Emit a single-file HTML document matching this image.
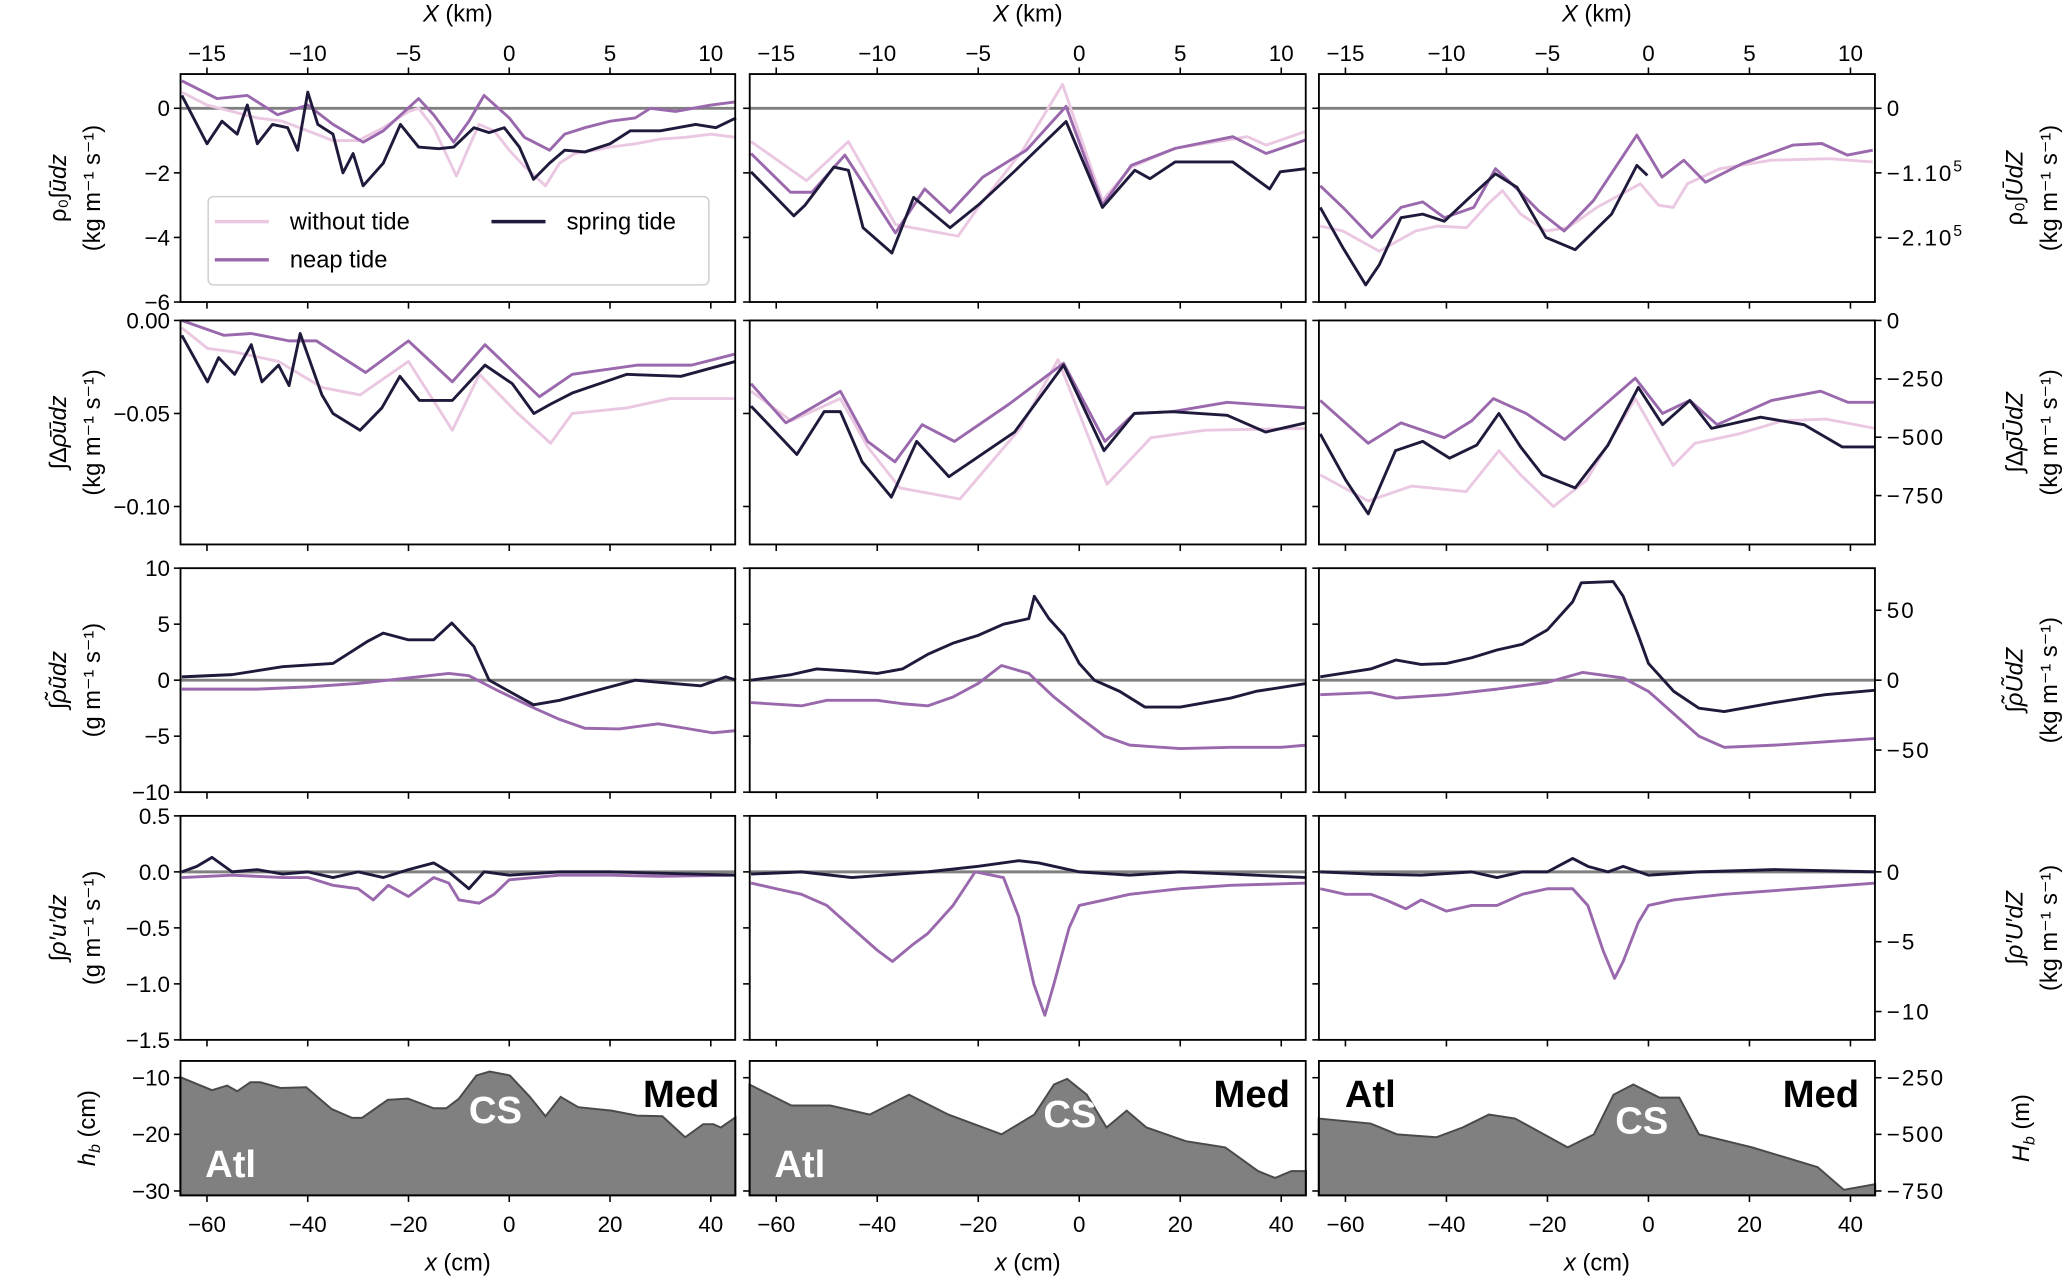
<!DOCTYPE html>
<html><head><meta charset="utf-8"><style>
html,body{margin:0;padding:0;background:#fff;}
svg{display:block;font-family:"Liberation Sans","DejaVu Sans",sans-serif;}
</style></head><body>
<svg id="fig" width="2066" height="1276" viewBox="0 0 1568 968" xmlns="http://www.w3.org/2000/svg"></svg>
<script>
// ---- data: x in cm ----
const r1c1WithoutX=[-65,-60,-55,-50,-45,-40,-35,-30,-25,-20,-18,-15,-10.5,-8,-6,-3,0,3,7.2,10,13,17,20,25,30,35,40,45];
const r1c1WithoutY=[0.5,0.1,-0.1,-0.3,-0.4,-0.7,-1.0,-1.0,-0.6,-0.1,0.0,-0.6,-2.1,-1.2,-0.5,-0.7,-1.3,-1.8,-2.4,-1.7,-1.4,-1.3,-1.2,-1.1,-0.95,-0.9,-0.8,-0.9];
const r1c1NeapX=[-65,-58,-52,-46,-40,-35,-29,-25,-18,-15,-11,-8,-5,0,3,8,11,15,20,25,28,33,40,45];
const r1c1NeapY=[0.85,0.3,0.4,-0.2,0.1,-0.5,-1.05,-0.7,0.3,-0.2,-1.05,-0.4,0.4,-0.3,-0.9,-1.3,-0.8,-0.6,-0.4,-0.3,0.0,-0.1,0.1,0.2];
const r1c1SpringX=[-65,-60,-57,-54,-52,-50,-47,-44,-42,-40,-38,-35,-33,-31,-29,-25,-21.6,-18,-14,-11,-7,-4,-1,2,4.8,8,11,15,20,24,30,37,41,45];
const r1c1SpringY=[0.4,-1.1,-0.4,-0.8,0.1,-1.1,-0.5,-0.6,-1.3,0.5,-0.5,-0.8,-2.0,-1.4,-2.4,-1.7,-0.5,-1.2,-1.25,-1.2,-0.6,-0.75,-0.6,-1.2,-2.2,-1.7,-1.3,-1.35,-1.1,-0.7,-0.7,-0.5,-0.6,-0.3];
const r1c2WithoutX=[-65,-54,-45.7,-36.4,-24,-20,-11.2,-3.3,4.6,10.3,19,33.3,37,44.8];
const r1c2WithoutY=[-1.03,-2.24,-1.03,-3.6,-3.96,-3.07,-1.3,0.74,-2.86,-1.82,-1.24,-0.88,-1.14,-0.72];
const r1c2NeapX=[-65,-57.2,-52.9,-46.4,-36.4,-30.6,-25.6,-19.1,-10.5,-2.6,4.6,10.3,19,30.4,37,44.8];
const r1c2NeapY=[-1.4,-2.6,-2.6,-1.45,-3.86,-2.5,-3.23,-2.13,-1.3,0.06,-3.0,-1.77,-1.24,-0.88,-1.4,-0.98];
const r1c2SpringX=[-65,-56.5,-54.3,-48.6,-45.7,-42.8,-37.1,-32.8,-25.6,-19.8,-12.6,-2.6,4.6,11,14,19,30.4,37.7,39.8,44.8];
const r1c2SpringY=[-1.97,-3.33,-3.0,-1.82,-1.92,-3.7,-4.48,-2.76,-3.7,-2.97,-1.92,-0.41,-3.07,-1.92,-2.18,-1.66,-1.66,-2.5,-1.97,-1.87];
const r1c3WithoutX=[-65,-60.5,-53.3,-46.1,-41.8,-36,-31.8,-28.9,-25.3,-20.3,-16,-10.2,-1.6,2,4.9,7.7,14.2,24.3,35.8,44.4];
const r1c3WithoutY=[-3.65,-3.8,-4.43,-3.8,-3.65,-3.7,-2.97,-2.55,-3.28,-3.8,-3.7,-3.07,-2.34,-3.0,-3.07,-2.34,-1.87,-1.61,-1.56,-1.66];
const r1c3NeapX=[-65,-60.5,-54.8,-49,-44.7,-40.4,-34.6,-30.3,-26,-21.7,-16.7,-10.9,-2.3,2.7,7,11.3,18.5,28.6,34.3,39.4,44.4];
const r1c3NeapY=[-2.4,-3.07,-4.0,-3.07,-2.9,-3.39,-3.07,-1.87,-2.5,-3.18,-3.8,-2.86,-0.83,-2.13,-1.61,-2.29,-1.72,-1.14,-1.09,-1.45,-1.3];
const r1c3SpringX=[-65,-60.5,-56,-53.3,-49,-44.7,-40.4,-35.4,-30.3,-26,-20.3,-14.5,-7.3,-2.3,-0.2];
const r1c3SpringY=[-3.07,-4.32,-5.47,-4.85,-3.39,-3.28,-3.5,-2.76,-2.03,-2.45,-4.0,-4.38,-3.28,-1.77,-2.08];

const r2c1WithoutX=[-65,-59.9,-54.5,-45.8,-37.2,-29.6,-20,-11.3,-5.9,1.7,8.2,12.5,23.3,31.9,44.9];
const r2c1WithoutY=[-0.004,-0.015,-0.017,-0.022,-0.036,-0.04,-0.022,-0.059,-0.029,-0.05,-0.066,-0.05,-0.047,-0.042,-0.042];
const r2c1NeapX=[-65,-56.6,-51.2,-43.7,-38.3,-28.5,-20,-11.3,-4.8,6,12.5,25.4,36.2,44.9];
const r2c1NeapY=[0,-0.008,-0.007,-0.011,-0.011,-0.028,-0.011,-0.033,-0.013,-0.041,-0.029,-0.024,-0.024,-0.018];
const r2c1SpringX=[-65,-59.9,-57.7,-54.5,-51.2,-49.1,-45.8,-43.7,-41.5,-37.2,-35,-29.6,-25.3,-21.7,-17.8,-11.3,-4.8,0.6,4.9,8.2,12.5,23.3,34.1,44.9];
const r2c1SpringY=[-0.008,-0.033,-0.02,-0.029,-0.013,-0.033,-0.024,-0.035,-0.007,-0.04,-0.05,-0.059,-0.047,-0.03,-0.043,-0.043,-0.024,-0.034,-0.05,-0.045,-0.039,-0.029,-0.03,-0.022];
const r2c2WithoutX=[-65,-57,-47.3,-41.9,-35.5,-23.6,-11.7,-4.2,5.5,14.2,25,44.9];
const r2c2WithoutY=[-0.038,-0.054,-0.042,-0.068,-0.09,-0.096,-0.058,-0.021,-0.088,-0.063,-0.059,-0.058];
const r2c2NeapX=[-65,-58.1,-47.3,-41.9,-36.5,-31.1,-24.7,-13.9,-3.1,5.1,10.9,18.4,29.3,44.9];
const r2c2NeapY=[-0.034,-0.055,-0.038,-0.065,-0.076,-0.056,-0.065,-0.045,-0.023,-0.065,-0.05,-0.049,-0.044,-0.047];
const r2c2SpringX=[-65,-55.9,-50.5,-47.3,-43,-37.2,-32.2,-25.8,-20.4,-12.8,-3.1,4.9,10.9,18.4,29.3,36.9,44.9];
const r2c2SpringY=[-0.046,-0.072,-0.049,-0.049,-0.076,-0.095,-0.065,-0.084,-0.074,-0.06,-0.024,-0.07,-0.05,-0.049,-0.051,-0.06,-0.055];
const r2c3WithoutX=[-65,-55.5,-46.9,-36.1,-29.6,-25.3,-18.8,-12.3,-2.6,4.9,9.2,17.9,26.5,35.1,44.9];
const r2c3WithoutY=[-0.083,-0.097,-0.089,-0.092,-0.07,-0.083,-0.1,-0.086,-0.042,-0.078,-0.066,-0.061,-0.054,-0.053,-0.058];
const r2c3NeapX=[-65,-55.5,-49,-40.4,-35,-30.7,-24.2,-16.6,-2.6,2.8,8.2,13.6,24.4,34.1,39.5,44.9];
const r2c3NeapY=[-0.043,-0.066,-0.055,-0.063,-0.054,-0.042,-0.05,-0.064,-0.031,-0.05,-0.043,-0.056,-0.043,-0.038,-0.044,-0.044];
const r2c3SpringX=[-65,-59.9,-55.5,-50.1,-44.7,-39.4,-34,-29.6,-25.3,-21,-14.5,-8,-2,2.8,8.2,12.5,22.2,30.8,38.4,44.9];
const r2c3SpringY=[-0.061,-0.086,-0.104,-0.07,-0.065,-0.074,-0.067,-0.05,-0.068,-0.083,-0.09,-0.067,-0.036,-0.056,-0.043,-0.058,-0.052,-0.056,-0.068,-0.068];

const r3c1SpringX=[-65,-55,-45,-35,-28,-25,-20,-15,-11.4,-7,-4,0,4.8,10,20,25,30,38,43,45];
const r3c1SpringY=[0.3,0.5,1.2,1.5,3.5,4.2,3.6,3.6,5.1,3.0,0.0,-1.0,-2.2,-1.8,-0.6,0.0,-0.2,-0.5,0.3,0.0];
const r3c1NeapX=[-65,-50,-40,-30,-20,-12,-8,-2,5,10,15,21.8,29.6,35,40.4,45];
const r3c1NeapY=[-0.8,-0.8,-0.6,-0.3,0.2,0.6,0.4,-1.0,-2.5,-3.5,-4.3,-4.35,-3.9,-4.3,-4.7,-4.5];
const r3c2SpringX=[-65,-57,-52,-45,-40,-35,-30,-25,-20,-15,-10,-8.9,-6,-3,0,3,8,13,20,30,35,45];
const r3c2SpringY=[0,0.5,1.0,0.8,0.6,1.0,2.3,3.3,4.0,5.0,5.5,7.5,5.5,4.0,1.5,0,-1.0,-2.4,-2.4,-1.6,-1.0,-0.3];
const r3c2NeapX=[-65,-55,-50,-45,-40,-35,-30,-25,-20,-15.4,-10,-5,0,5,10,20,30,40,45];
const r3c2NeapY=[-2.0,-2.3,-1.8,-1.8,-1.8,-2.1,-2.3,-1.5,-0.3,1.3,0.6,-1.5,-3.3,-5.0,-5.8,-6.1,-6.0,-6.0,-5.8];
const r3c3SpringX=[-65,-55,-50,-45,-40,-35,-30,-25,-20,-15,-13.3,-7,-5,-2,0,5,10,15,25,35,45];
const r3c3SpringY=[0.3,1.0,1.8,1.4,1.5,2.0,2.7,3.2,4.5,7.0,8.7,8.8,7.5,4.0,1.5,-1.0,-2.5,-2.8,-2.0,-1.3,-0.9];
const r3c3NeapX=[-65,-55,-50,-40,-30,-20,-13,-5,0,5,10,15,25,35,45];
const r3c3NeapY=[-1.3,-1.1,-1.6,-1.3,-0.8,-0.2,0.7,0.2,-1.0,-3.0,-5.0,-6.0,-5.8,-5.5,-5.2];

const r4c1SpringX=[-65,-62,-59,-55,-50,-45,-40,-35,-30,-25,-20,-15,-12,-8,-5,0,10,20,45];
const r4c1SpringY=[0.0,0.05,0.13,0.0,0.02,-0.02,0.0,-0.05,0.0,-0.05,0.02,0.08,0.0,-0.15,0.0,-0.03,0.0,0.0,-0.03];
const r4c1NeapX=[-65,-55,-45,-40,-35,-30,-27,-24,-20,-15,-12,-10,-6,-3,0,10,20,30,45];
const r4c1NeapY=[-0.05,-0.03,-0.05,-0.05,-0.12,-0.15,-0.25,-0.12,-0.22,-0.05,-0.1,-0.25,-0.28,-0.2,-0.07,-0.03,-0.03,-0.04,-0.03];
const r4c2SpringX=[-65,-55,-45,-30,-20,-12,-8,-5,0,10,20,30,45];
const r4c2SpringY=[-0.02,0.0,-0.05,0.0,0.05,0.1,0.08,0.05,0.0,-0.03,0.0,-0.02,-0.05];
const r4c2NeapX=[-65,-60,-55,-50,-45,-40,-37,-33,-30,-25,-20.6,-15,-12,-9,-6.8,-5,-2,0,5,10,20,30,45];
const r4c2NeapY=[-0.1,-0.15,-0.2,-0.3,-0.5,-0.7,-0.8,-0.65,-0.55,-0.3,0.0,-0.05,-0.4,-1.0,-1.28,-1.0,-0.5,-0.3,-0.25,-0.2,-0.15,-0.12,-0.1];
const r4c3SpringX=[-65,-55,-45,-35,-30,-25,-20,-15,-12,-8,-5,0,10,25,45];
const r4c3SpringY=[0.0,-0.02,-0.03,0.0,-0.05,0.0,0.0,0.12,0.05,0.0,0.05,-0.03,0.0,0.02,0.0];
const r4c3NeapX=[-65,-60,-55,-52,-48,-45,-40,-35,-30,-25,-20,-15,-12,-9,-6.7,-5,-2,0,5,15,30,45];
const r4c3NeapY=[-0.15,-0.2,-0.2,-0.25,-0.33,-0.25,-0.35,-0.3,-0.3,-0.2,-0.15,-0.15,-0.3,-0.7,-0.95,-0.8,-0.45,-0.3,-0.25,-0.2,-0.15,-0.1];

const r5c1X=[-65.3,-59,-56,-54,-51.4,-49.4,-45.4,-40.3,-35.3,-31.2,-29.2,-24.1,-20.1,-15,-12.5,-10,-6.5,-3.9,0.1,4.1,7.2,10.2,13.7,20.3,25.4,30.4,34.9,38.5,40.5,42,44.9];
const r5c1Y=[-9.9,-12.2,-11.4,-12.4,-10.8,-10.8,-11.8,-11.7,-15.5,-17.1,-17.1,-13.9,-13.7,-15.4,-15.4,-13.7,-9.6,-8.9,-9.6,-13.4,-16.8,-13.4,-15.2,-15.8,-16.7,-16.8,-20.5,-18.2,-18.2,-18.8,-17.0];
const r5c2X=[-65.3,-57,-49.3,-41.5,-33.7,-25.9,-15.4,-8.9,-5,-2.4,1.5,5.4,9.4,13.3,21.1,28.9,35.4,38.8,42,44.9];
const r5c2Y=[-11.2,-14.9,-14.9,-16.5,-13,-16.5,-20,-16.5,-11.2,-10.2,-13,-18.8,-15.8,-18.8,-21.2,-22.3,-26.5,-27.7,-26.5,-26.5];
const r5c3X=[-65.3,-55,-49.8,-42,-36.8,-31.6,-26.4,-16,-10.8,-6.9,-3,2.2,6.1,10,20.5,33.5,38.7,44.9];
const r5c3Y=[-17.2,-18.1,-20,-20.5,-18.8,-16.5,-17.2,-22.3,-20,-13,-11.2,-13.5,-13.5,-20,-22.3,-25.8,-29.8,-28.8];

const xTicks=[-60,-40,-20,0,20,40];
const xTickLabels=["−60","−40","−20","0","20","40"];
const kmTickLabels=["−15","−10","−5","0","5","10"];

// ---- layout ----
const NS="http://www.w3.org/2000/svg";
const svg=document.getElementById('fig');
const XMIN=-65.25, XMAX=44.85;
const cols=[{x0:137,x1:558},{x0:569,x1:991},{x0:1001,x1:1423}];
const rows=[{y0:56,y1:229,min:-6,max:1.06},{y0:243,y1:413,min:-0.1204,max:0},{y0:431,y1:601,min:-10,max:10},{y0:619,y1:789,min:-1.5,max:0.5},{y0:805,y1:907,min:-30.77,max:-7.04}];
const C_WO="#ebc8e2", C_NE="#9a68ac", C_SP="#1f1a3b";
function sx(c,x){const k=cols[c];return k.x0+(x-XMIN)/(XMAX-XMIN)*(k.x1-k.x0);}
function sy(r,v){const k=rows[r];return k.y1-(v-k.min)/(k.max-k.min)*(k.y1-k.y0);}
function el(tag,attrs,parent){const e=document.createElementNS(NS,tag);for(const a in attrs)e.setAttribute(a,attrs[a]);(parent||svg).appendChild(e);return e;}
function txt(x,y,s,anchor,size,parent,extra){const t=el('text',Object.assign({x:x,y:y,'text-anchor':anchor||'middle','font-size':size||16,fill:'#000'},extra||{}),parent);t.textContent=s;return t;}

function series(r,c,xs,ys,color,name){
  let d='';
  for(let i=0;i<xs.length;i++){d+=(i?'L':'M')+sx(c,xs[i]).toFixed(1)+','+sy(r,ys[i]).toFixed(1);}
  const p=el('path',{d:d,fill:'none',stroke:color,'stroke-width':2.2,'stroke-linejoin':'round'});
  
  
}
function bathy(c,xs,ys,name){
  const r=4;
  let d='M'+sx(c,xs[0]).toFixed(1)+','+rows[r].y1;
  for(let i=0;i<xs.length;i++){d+='L'+sx(c,xs[i]).toFixed(1)+','+sy(r,ys[i]).toFixed(1);}
  d+='L'+sx(c,xs[xs.length-1]).toFixed(1)+','+rows[r].y1+'Z';
  const p=el('path',{d:d,fill:'#808080',stroke:'#4a4a4a','stroke-width':1.5});
  
  
}

const leftTicks=[
  {v:[0,-2,-4,-6],l:["0","−2","−4","−6"]},
  {v:[0,-0.05,-0.1],l:["0.00","−0.05","−0.10"]},
  {v:[10,5,0,-5,-10],l:["10","5","0","−5","−10"]},
  {v:[0.5,0,-0.5,-1,-1.5],l:["0.5","0.0","−0.5","−1.0","−1.5"]},
  {v:[-10,-20,-30],l:["−10","−20","−30"]}];
const rightTickVals=[[0,-1,-2],[0,-250,-500,-750],[50,0,-50],[0,-5,-10],[-250,-500,-750]];
const rightScale=[2,1.255e-4,0.1248,0.1247,0.04];
const rightLabels=[["0","−1.10","−2.10"],["0","−250","−500","−750"],["50","0","−50"],["0","−5","−10"],["−250","−500","−750"]];

// panels
for(let r=0;r<5;r++){for(let c=0;c<3;c++){
  const g=el('g',{});
  
  
  const k=cols[c],w=rows[r];
  if(r===0||r===2||r===3){
    const z=el('line',{x1:k.x0,x2:k.x1,y1:sy(r,0),y2:sy(r,0),stroke:'#808080','stroke-width':2.2},g);
    
    
  }
}}

// series
const S=[
 [0,0,r1c1WithoutX,r1c1WithoutY,C_WO,'without'],[0,0,r1c1NeapX,r1c1NeapY,C_NE,'neap'],[0,0,r1c1SpringX,r1c1SpringY,C_SP,'spring'],
 [0,1,r1c2WithoutX,r1c2WithoutY,C_WO,'without'],[0,1,r1c2NeapX,r1c2NeapY,C_NE,'neap'],[0,1,r1c2SpringX,r1c2SpringY,C_SP,'spring'],
 [0,2,r1c3WithoutX,r1c3WithoutY,C_WO,'without'],[0,2,r1c3NeapX,r1c3NeapY,C_NE,'neap'],[0,2,r1c3SpringX,r1c3SpringY,C_SP,'spring'],
 [1,0,r2c1WithoutX,r2c1WithoutY,C_WO,'without'],[1,0,r2c1NeapX,r2c1NeapY,C_NE,'neap'],[1,0,r2c1SpringX,r2c1SpringY,C_SP,'spring'],
 [1,1,r2c2WithoutX,r2c2WithoutY,C_WO,'without'],[1,1,r2c2NeapX,r2c2NeapY,C_NE,'neap'],[1,1,r2c2SpringX,r2c2SpringY,C_SP,'spring'],
 [1,2,r2c3WithoutX,r2c3WithoutY,C_WO,'without'],[1,2,r2c3NeapX,r2c3NeapY,C_NE,'neap'],[1,2,r2c3SpringX,r2c3SpringY,C_SP,'spring'],
 [2,0,r3c1NeapX,r3c1NeapY,C_NE,'neap'],[2,0,r3c1SpringX,r3c1SpringY,C_SP,'spring'],
 [2,1,r3c2NeapX,r3c2NeapY,C_NE,'neap'],[2,1,r3c2SpringX,r3c2SpringY,C_SP,'spring'],
 [2,2,r3c3NeapX,r3c3NeapY,C_NE,'neap'],[2,2,r3c3SpringX,r3c3SpringY,C_SP,'spring'],
 [3,0,r4c1NeapX,r4c1NeapY,C_NE,'neap'],[3,0,r4c1SpringX,r4c1SpringY,C_SP,'spring'],
 [3,1,r4c2NeapX,r4c2NeapY,C_NE,'neap'],[3,1,r4c2SpringX,r4c2SpringY,C_SP,'spring'],
 [3,2,r4c3NeapX,r4c3NeapY,C_NE,'neap'],[3,2,r4c3SpringX,r4c3SpringY,C_SP,'spring']];
for(const s of S){series(s[0],s[1],s[2],s[3],s[4],s[5]+'-line-r'+(s[0]+1)+'-c'+(s[1]+1));}
bathy(0,r5c1X,r5c1Y,'bathymetry-c1');
bathy(1,r5c2X,r5c2Y,'bathymetry-c2');
bathy(2,r5c3X,r5c3Y,'bathymetry-c3');

// frames & ticks
for(let r=0;r<5;r++){for(let c=0;c<3;c++){
  const k=cols[c],w=rows[r];
  const f=el('rect',{x:k.x0,y:w.y0,width:k.x1-k.x0,height:w.y1-w.y0,fill:'none',stroke:'#000','stroke-width':1.4});
  
  
  xTicks.forEach((t,i)=>{
    const X=sx(c,t);
    el('line',{x1:X,x2:X,y1:w.y1,y2:w.y1+5,stroke:'#000','stroke-width':1.2});
    if(r===0){el('line',{x1:X,x2:X,y1:w.y0,y2:w.y0-5,stroke:'#000','stroke-width':1.2});
      const t1=txt(X,w.y0-10,kmTickLabels[i],'middle',17);
      
      }
    if(r===4){const t2=txt(X,w.y1+28,xTickLabels[i],'middle',17);
      
      }
  });
  leftTicks[r].v.forEach((v,i)=>{
    const Y=sy(r,v);
    el('line',{x1:k.x0-5,x2:k.x0,y1:Y,y2:Y,stroke:'#000','stroke-width':1.2});
    if(c===0){const t3=txt(k.x0-8,Y+6,leftTicks[r].l[i],'end',17);
      
      }
  });
  if(c===2){rightTickVals[r].forEach((v,i)=>{
    const Y=sy(r,v*rightScale[r]);
    el('line',{x1:k.x1,x2:k.x1+5,y1:Y,y2:Y,stroke:'#000','stroke-width':1.2});
    const t4=txt(k.x1+9,Y+6,rightLabels[r][i],'start',17,null,{'letter-spacing':'1.5'});
    
    
    if(r===0&&i>0){const sp=el('tspan',{dy:-7,'font-size':12});sp.textContent='5';t4.appendChild(sp);}
  });}
}}

// axis titles
for(let c=0;c<3;c++){
  const mid=(cols[c].x0+cols[c].x1)/2;
  const a=txt(mid,16,'','middle',18);a.innerHTML='<tspan font-style="italic">X</tspan> (km)';
  
  
  const b=txt(mid,964,'','middle',18);b.innerHTML='<tspan font-style="italic">x</tspan> (cm)';
  
  
}
const leftTitles=[['ρ₀∫<tspan font-style="italic">ūdz</tspan>','(kg m⁻¹ s⁻¹)'],['∫Δ<tspan font-style="italic">ρ̄ūdz</tspan>','(kg m⁻¹ s⁻¹)'],['∫<tspan font-style="italic">ρ̃ũdz</tspan>','(g m⁻¹ s⁻¹)'],['∫<tspan font-style="italic">ρ′u′dz</tspan>','(g m⁻¹ s⁻¹)'],['<tspan font-style="italic">h<tspan font-size="12" dy="4">b</tspan></tspan><tspan dy="-4"> (cm)</tspan>']];
const rightTitles=[['ρ₀∫<tspan font-style="italic">ŪdZ</tspan>','(kg m⁻¹ s⁻¹)'],['∫Δ<tspan font-style="italic">ρ̄ŪdZ</tspan>','(kg m⁻¹ s⁻¹)'],['∫<tspan font-style="italic">ρ̃ŨdZ</tspan>','(kg m⁻¹ s⁻¹)'],['∫<tspan font-style="italic">ρ′U′dZ</tspan>','(kg m⁻¹ s⁻¹)'],['<tspan font-style="italic">H<tspan font-size="12" dy="4">b</tspan></tspan><tspan dy="-4"> (m)</tspan>']];
for(let r=0;r<5;r++){
  const my=(rows[r].y0+rows[r].y1)/2;
  const L=leftTitles[r], R=rightTitles[r];
  const xsL=L.length===2?[50,76]:[72];
  const xsR=R.length===2?[1535,1561]:[1540];
  L.forEach((s,i)=>{const t=txt(0,0,'','middle',18,null,{transform:'translate('+xsL[i]+','+my+') rotate(-90)'});t.innerHTML=s;
    
    });
  R.forEach((s,i)=>{const t=txt(0,0,'','middle',18,null,{transform:'translate('+xsR[i]+','+my+') rotate(-90)'});t.innerHTML=s;
    
    });
}

// region labels
const regions=[[175,893,'Atl','#fff'],[376,852,'CS','#fff'],[517,840,'Med','#000'],[607,893,'Atl','#fff'],[812,855,'CS','#fff'],[950,840,'Med','#000'],[1040,840,'Atl','#000'],[1246,860,'CS','#fff'],[1382,840,'Med','#000']];
regions.forEach(q=>{const t=txt(q[0],q[1],q[2],'middle',29,null,{'font-weight':'bold',fill:q[3]});
  
  });

// legend
const lg=el('g',{});


el('rect',{x:158,y:149,width:380,height:67,rx:4,fill:'#fff','fill-opacity':0.85,stroke:'#d0d0d0','stroke-width':1.2},lg);
const entries=[[163,168,C_WO,'without tide'],[163,197,C_NE,'neap tide'],[373,168,C_SP,'spring tide']];
entries.forEach(e=>{
  const ge=el('g',{},lg);
  
  
  el('line',{x1:e[0],x2:e[0]+41,y1:e[1],y2:e[1],stroke:e[2],'stroke-width':2.6},ge);
  txt(e[0]+57,e[1]+6,e[3],'start',18,ge);
});
</script>
</body></html>
